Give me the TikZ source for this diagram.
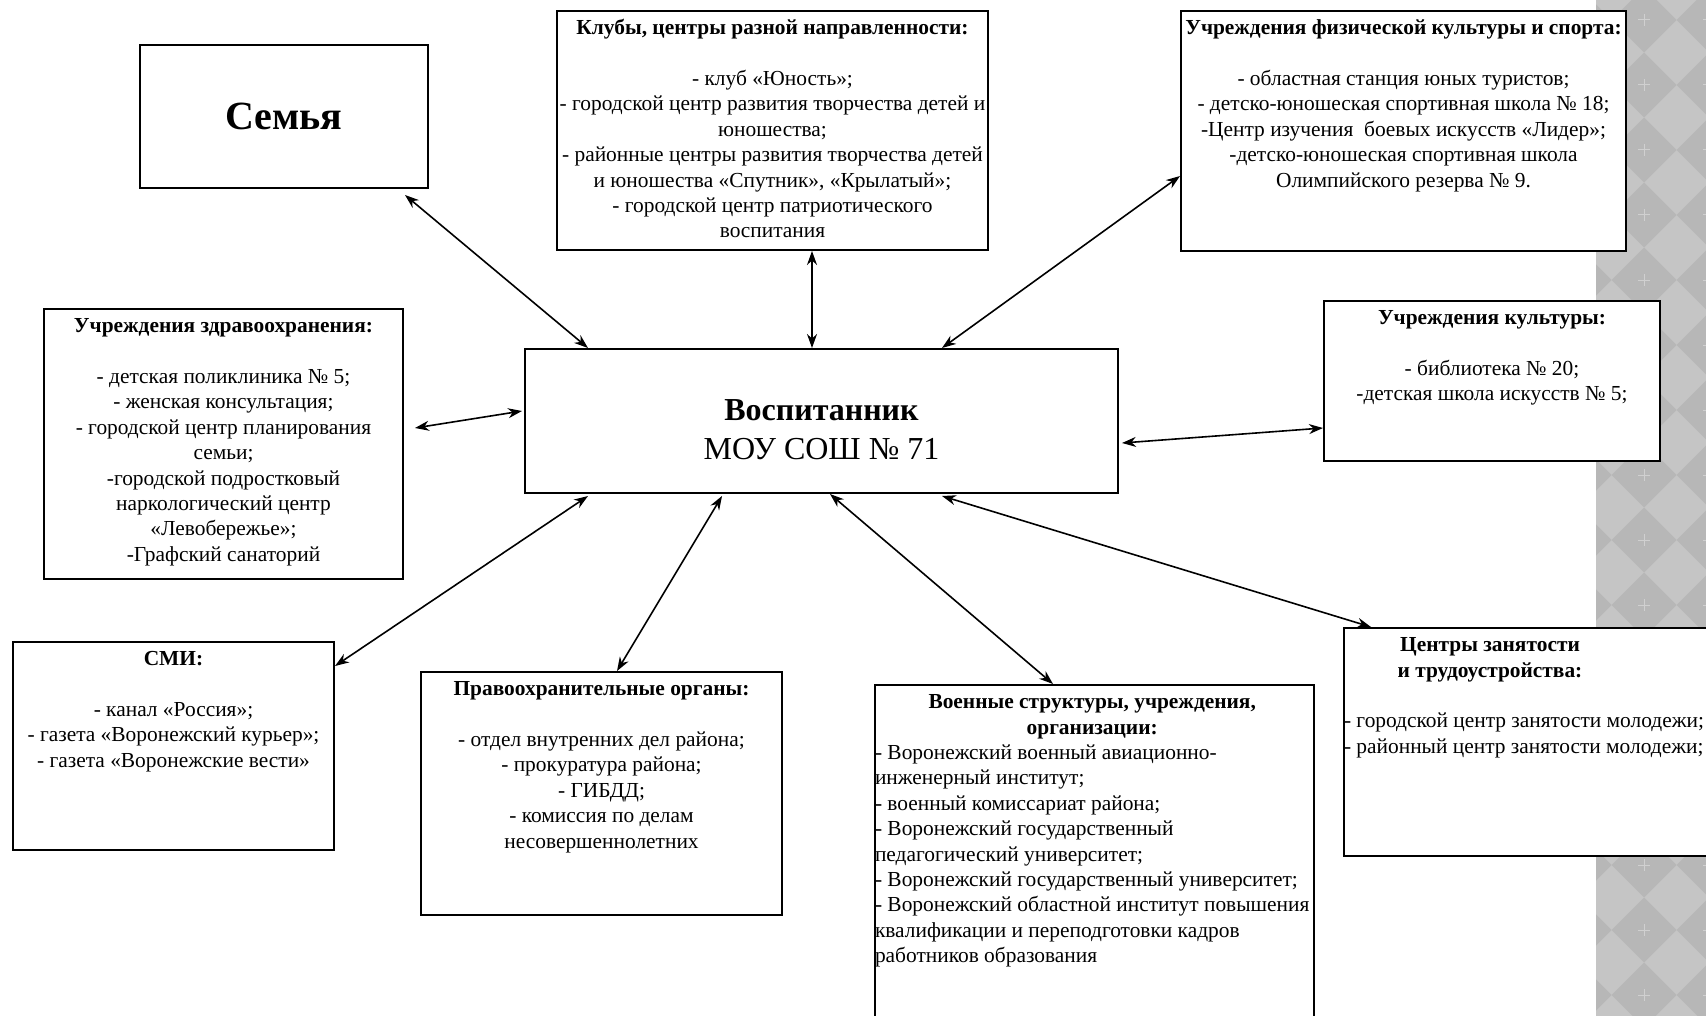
\documentclass[tikz,border=0pt]{standalone}
\usepackage{fontspec}
\setmainfont{Liberation Serif}
\usetikzlibrary{arrows.meta,calc}

\definecolor{stripdark}{RGB}{183,183,183}
\definecolor{striplight}{RGB}{197,197,197}

% text block at the top of a box: [c|l]{width}{height}{rows}
\newcommand{\inbox}[4][c]{%
  \parbox[c][#3][t]{#2}{\vspace*{3pt}%
    \makebox[#2][#1]{\begin{tabular}[t]{@{}#1@{}}#4\end{tabular}}}}

\tikzset{
  box/.style={draw, line width=1pt, fill=white, inner sep=0pt, anchor=north west,
    font=\fontsize{10.7}{12.7}\selectfont},
  link/.style={{Stealth[length=7pt,width=5pt]}-{Stealth[length=7pt,width=5pt]}, line width=0.8pt},
}

\begin{document}
\begin{tikzpicture}[x=0.5pt,y=-0.5pt]
    \useasboundingbox (0,0) rectangle (1706,1016);
    \fill[white] (0,0) rectangle (1706,1016);

    % grey strip on the right
    \begin{scope}
        \clip (1596,0) rectangle (1706,1016);
        \fill[striplight] (1596,0) rectangle (1706,1016);
        \foreach \i in {0,...,2}{
            \foreach \j in {-1,...,16}{
                \pgfmathsetmacro{\cx}{1644+65*(\i-1)}
                \pgfmathsetmacro{\cy}{540+65*(\j-8)}
                \fill[stripdark] (\cx,\cy-32.5) -- (\cx+32.5,\cy) -- (\cx,\cy+32.5) -- (\cx-32.5,\cy) -- cycle;
                \draw[white!35!stripdark, line width=0.5pt] (\cx-6,\cy) -- (\cx+6,\cy) (\cx,\cy-6) -- (\cx,\cy+6);
            };
        };
    \end{scope}

    \node[box, minimum width=144pt, minimum height=71.5pt, font=\fontsize{20}{24}\selectfont\bfseries]
        (semya) at (139,44) {Семья};

    \node[box] (klub) at (556,10) {\inbox{215.5pt}{119.5pt}{%
        \textbf{Клубы, центры разной направленности:}\\ \\
        - клуб «Юность»;\\
        - городской центр развития творчества детей и\\
        юношества;\\
        - районные центры развития творчества детей\\
        и юношества «Спутник», «Крылатый»;\\
        - городской центр патриотического\\
        воспитания}};

    \node[box] (fiz) at (1180,10) {\inbox{222.5pt}{120pt}{%
        \textbf{Учреждения физической культуры и спорта:}\\ \\
        - областная станция юных туристов;\\
        - детско-юношеская спортивная школа № 18;\\
        -Центр изучения\ \ боевых искусств «Лидер»;\\
        -детско-юношеская спортивная школа\\
        Олимпийского резерва № 9.}};

    \node[box] (zdrav) at (43,308) {\inbox{179.5pt}{135pt}{%
        \textbf{Учреждения здравоохранения:}\\ \\
        - детская поликлиника № 5;\\
        - женская консультация;\\
        - городской центр планирования\\
        семьи;\\
        -городской подростковый\\
        наркологический центр\\
        «Левобережье»;\\
        -Графский санаторий}};

    \node[box, font=\fontsize{16}{19.5}\selectfont] (vosp) at (524,348)
        {\parbox[c][72pt][c]{296.5pt}{\centering\vspace*{9pt}\textbf{Воспитанник}\\МОУ СОШ № 71}};

    \node[box] (kult) at (1323,300) {\inbox{168pt}{80pt}{%
        \textbf{Учреждения культуры:}\\ \\
        - библиотека № 20;\\
        -детская школа искусств № 5;}};

    \node[box] (smi) at (12,641) {\inbox{160.5pt}{104pt}{%
        \textbf{СМИ:}\\ \\
        - канал «Россия»;\\
        - газета «Воронежский курьер»;\\
        - газета «Воронежские вести»}};

    \node[box] (pravo) at (420,671) {\inbox{180.5pt}{121.5pt}{%
        \textbf{Правоохранительные органы:}\\ \\
        - отдел внутренних дел района;\\
        - прокуратура района;\\
        - ГИБДД;\\
        - комиссия по делам\\
        несовершеннолетних}};

    \node[box] (voen) at (874,684) {\inbox[l]{219.5pt}{170pt}{%
        \multicolumn{1}{c}{\textbf{Военные структуры, учреждения,}}\\
        \multicolumn{1}{c}{\textbf{организации:}}\\
        - Воронежский военный авиационно-\\
        инженерный институт;\\
        - военный комиссариат района;\\
        - Воронежский государственный\\
        педагогический университет;\\
        - Воронежский государственный университет;\\
        - Воронежский областной институт повышения\\
        квалификации и переподготовки кадров\\
        работников образования}};

    \node[box] (zan) at (1343,627) {\inbox[l]{183.5pt}{114pt}{%
        \multicolumn{1}{c}{\hspace*{-34pt}\textbf{Центры занятости}}\\
        \multicolumn{1}{c}{\hspace*{-34pt}\textbf{и трудоустройства:}}\\ \\
        - городской центр занятости молодежи;\\
        - районный центр занятости молодежи;}};

    % links to the pupil
    \draw[link] ($(semya.south east)+(-24,6)$) -- ($(vosp.north west)+(64,0)$);
    \draw[link] ($(klub.south west)+(256,0)$) -- ($(vosp.north west)+(288,0)$);
    \draw[link] ($(fiz.south west)+(0,-76)$) -- ($(vosp.north west)+(418,0)$);
    \draw[link] ($(zdrav.north east)+(11,120)$) -- ($(vosp.north west)+(-2,63)$);
    \draw[link] ($(kult.north west)+(0,128)$) -- ($(vosp.north east)+(3,95)$);
    \draw[link] ($(smi.north east)+(0,25)$) -- ($(vosp.south west)+(64,2)$);
    \draw[link] ($(pravo.north west)+(197,0)$) -- ($(vosp.south west)+(198,2)$);
    \draw[link] ($(voen.north west)+(179,0)$) -- ($(vosp.south west)+(306,0)$);
    \draw[link] ($(zan.north west)+(28,0)$) -- ($(vosp.south west)+(418,2)$);
\end{tikzpicture}
\end{document}
